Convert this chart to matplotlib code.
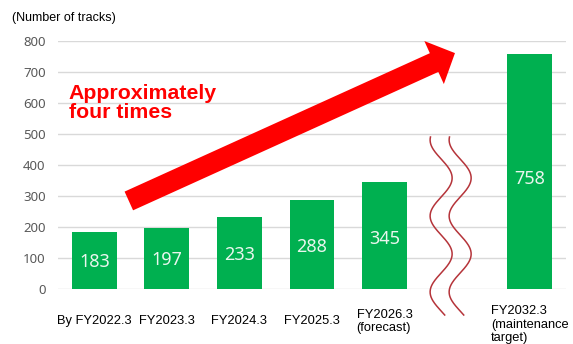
import matplotlib.pyplot as plt
import numpy as np

categories = ['By FY2022.3', 'FY2023.3', 'FY2024.3', 'FY2025.3',
              'FY2026.3\n(forecast)', 'FY2032.3\n(maintenance\ntarget)']
values = [183, 197, 233, 288, 345, 758]
yticks = [0, 100, 200, 300, 400, 500, 600, 700, 800]

GREEN = '#00B050'
RED = '#FF0000'


def make_chart():
    fig = plt.figure(figsize=(5.73, 3.44), dpi=100)
    ax = fig.add_axes([58 / 573, 55 / 344, 508 / 573, 248 / 344])

    # leave an empty slot before the last bar for the axis break
    x = np.arange(len(values), dtype=float)
    x[-1] += 1

    ax.bar(x, values, width=0.62, color=GREEN, zorder=2)
    for xi, v in zip(x, values):
        ax.text(xi, v * 0.47, str(v), ha='center', va='center',
                fontsize=13, color='#EAF6EE', family='Noto Sans', zorder=3)

    ax.set_xlim(-0.5, 6.5)
    ax.set_ylim(0, 800)
    ax.set_yticks(yticks)
    ax.set_xticks([])
    ax.tick_params(axis='y', length=0, pad=9, labelsize=9.5, labelcolor='#595959')
    for lab in ax.get_yticklabels():
        lab.set_family('Noto Sans')
    ax.grid(axis='y', color='#D9D9D9', linewidth=1, zorder=0)
    for s in ax.spines.values():
        s.set_visible(False)

    # category labels
    trans = ax.get_xaxis_transform()
    for xi, lab in zip(x[:-1], categories[:-1]):
        ax.text(xi, -0.131, lab, transform=trans, ha='center', va='center',
                multialignment='left', fontsize=9.3, family='Liberation Sans')
    ax.text(x[-1], -0.064, categories[-1], transform=trans, ha='center', va='top',
            multialignment='left', fontsize=9.3, family='Liberation Sans',
            linespacing=1.2)

    fig.text(12 / 573, 1 - 18 / 344, '(Number of tracks)', fontsize=9,
             family='Liberation Sans', va='center', ha='left')

    # big red arrow
    ax.annotate('', xy=(4.97, 761), xytext=(0.476, 284),
                arrowprops=dict(arrowstyle='simple,head_length=16.5,head_width=34,tail_width=14.8',
                                mutation_scale=1, color=RED, shrinkA=0, shrinkB=0,
                                linewidth=0),
                zorder=4, annotation_clip=False)

    ax.text(-0.352, 662, 'Approximately\nfour times', color=RED, fontsize=15.3,
            fontweight='bold', family='Liberation Sans', ha='left', va='top',
            linespacing=1.0, zorder=5)

    # wavy break lines
    py = np.linspace(137, 315, 200)
    for cx in (441, 460):
        px = cx - 11 * np.cos(2 * np.pi * (py - 140) / 76)
        ax.plot((px - 94.5) / 72.5, (289 - py) / 0.31, color='#B5343A',
                linewidth=1.1, clip_on=False, zorder=4)

    fig.savefig('out.png', dpi=100)


if __name__ == '__main__':
    make_chart()
